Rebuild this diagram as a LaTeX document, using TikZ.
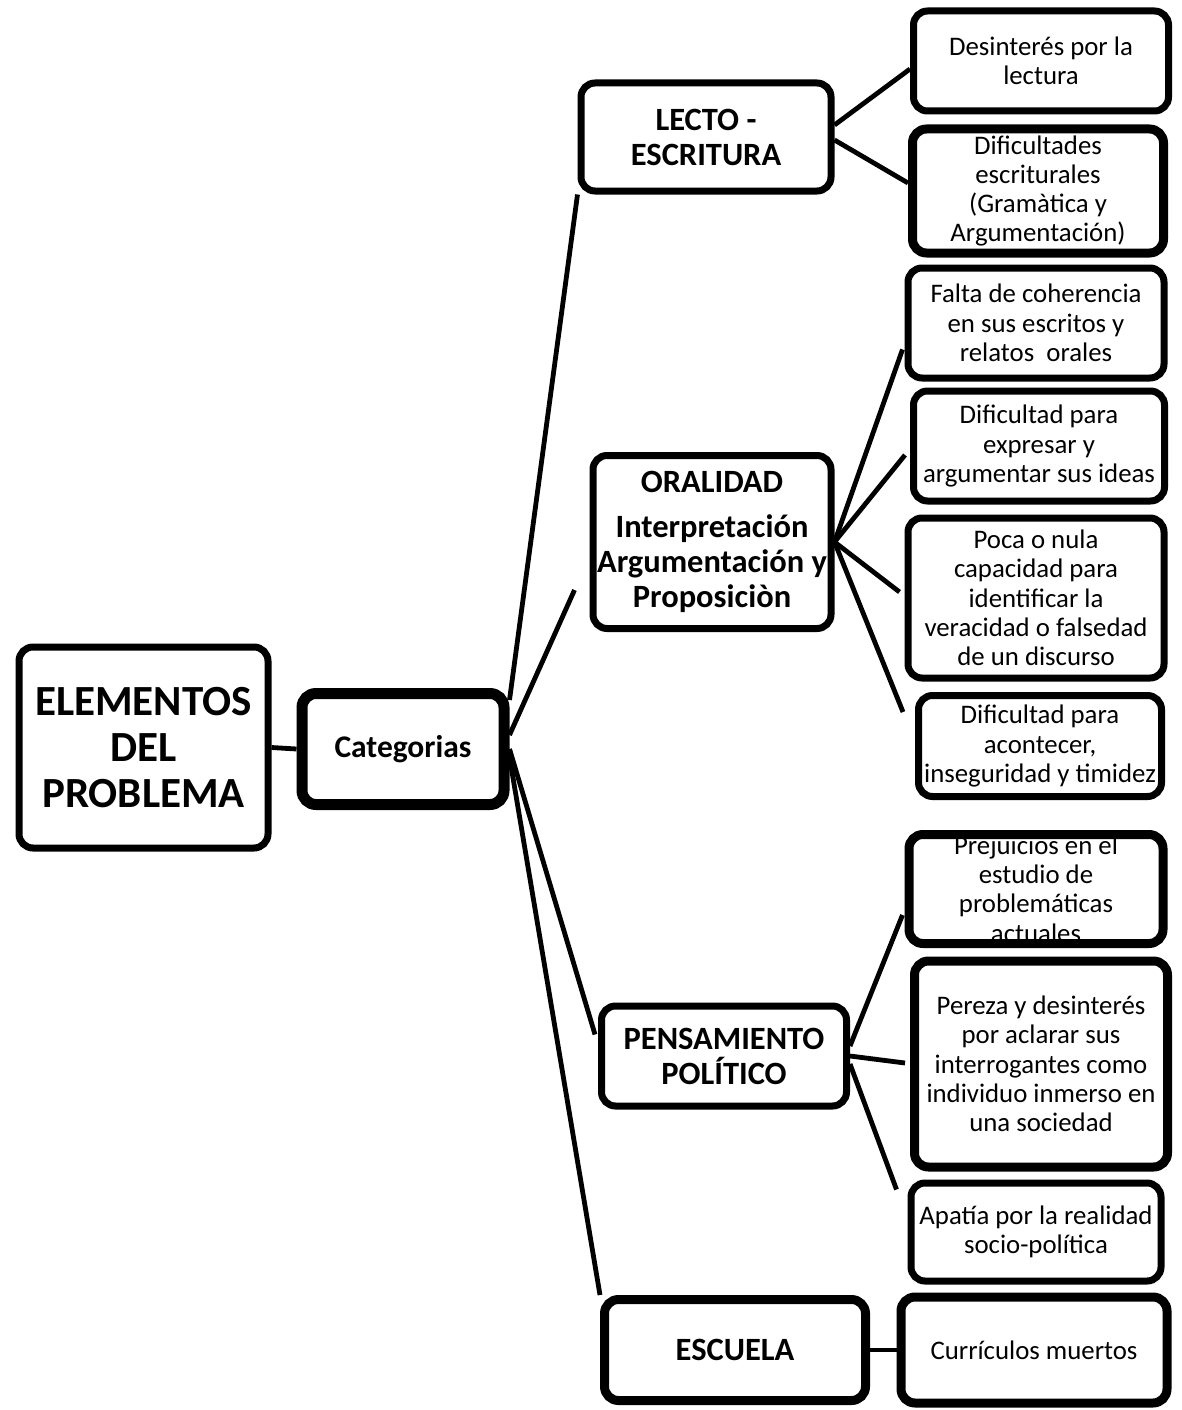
\documentclass[tikz,border=0pt]{standalone}
\usepackage{fontspec}
\setmainfont{Carlito}
\usetikzlibrary{calc}
\begin{document}
\begin{tikzpicture}[x=1pt,y=-1pt,
  box/.style={draw=black, line width=7pt, rounded corners=14pt, fill=white, align=center, inner sep=0pt},
  leaf/.style={box, font=\fontsize{26.8}{29.3}\selectfont},
  head/.style={box, font=\bfseries\fontsize{32.5}{35}\selectfont},
  conn/.style={line width=4.8pt}]
\useasboundingbox (0,0) rectangle (1182,1410);
% root and category
\node[box, font=\bfseries\fontsize{43}{46}\selectfont, minimum width=249pt, minimum height=201pt] (elem) at (143.5,747.5) {ELEMENTOS\\DEL\\PROBLEMA};
\node[head, font=\bfseries\fontsize{31.5}{35}\selectfont, line width=11pt, minimum width=202pt, minimum height=111pt] (cat) at (403,749) {Categorias};
% categories
\node[head, minimum width=250pt, minimum height=108pt] (lecto) at (706,137) {LECTO -\\ESCRITURA};
\node[head, minimum width=238pt, minimum height=173pt] (oral) at (712,542) {ORALIDAD\\[10pt]Interpretación\\Argumentación y\\Proposiciòn};
\node[head, minimum width=245pt, minimum height=100pt] (pens) at (724,1056) {PENSAMIENTO\\POLÍTICO};
\node[head, line width=9pt, minimum width=261pt, minimum height=101pt] (esc) at (735,1350) {ESCUELA};
% leaves
\node[leaf, minimum width=255pt, minimum height=100pt] (d1) at (1041,61) {Desinterés por la\\lectura};
\node[leaf, line width=9pt, minimum width=251pt, minimum height=124pt] (d2) at (1038,191) {Dificultades\\escriturales\\(Gramàtica y\\Argumentación)};
\node[leaf, minimum width=256pt, minimum height=110pt] (o1) at (1036,323) {Falta de coherencia\\en sus escritos y\\relatos\ \ orales};
\node[leaf, minimum width=251pt, minimum height=110pt] (o2) at (1039,446) {Dificultad para\\expresar y\\argumentar sus ideas};
\node[leaf, minimum width=256pt, minimum height=160pt] (o3) at (1036,598) {Poca o nula\\capacidad para\\identificar la\\veracidad o falsedad\\de un discurso};
\node[leaf, minimum width=243pt, minimum height=101pt] (o4) at (1040,746) {Dificultad para\\acontecer,\\inseguridad y timidez};
\node[leaf, line width=9pt, minimum width=254pt, minimum height=109pt] (p1) at (1036,889) {Prejuicios en el\\estudio de\\problemáticas\\actuales};
\node[leaf, line width=9pt, minimum width=253pt, minimum height=206pt] (p2) at (1041,1064) {Pereza y desinterés\\por aclarar sus\\interrogantes como\\individuo inmerso en\\una sociedad};
\node[leaf, minimum width=250pt, minimum height=98pt] (p3) at (1036,1232) {Apatía por la realidad\\socio-política};
\node[leaf, line width=9pt, minimum width=266pt, minimum height=106pt] (e1) at (1034,1350) {Currículos muertos};
% connectors
\draw[conn] (elem.east) -- (cat.west);
\draw[conn] ($(cat.north east)+(0,12)$) -- (lecto.south west);
\draw[conn] ($(cat.east)+(0,-14)$) -- ($(oral.south west)+(-15,-42)$);
\draw[conn] (cat.east) -- ($(pens.north west)+(-3,32)$);
\draw[conn] ($(cat.east)+(0,8)$) -- (esc.north west);
\draw[conn] ($(lecto.east)+(0,-12)$) -- ($(d1.west)+(0,8)$);
\draw[conn] ($(lecto.east)+(0,3)$) -- ($(d2.west)+(0,-8)$);
\draw[conn] (oral.east) -- ($(o1.south west)+(-2,-32)$);
\draw[conn] (oral.east) -- ($(o2.west)+(-5,9)$);
\draw[conn] (oral.east) -- ($(o3.west)+(-5,-6)$);
\draw[conn] (oral.east) -- ($(o4.north west)+(-12,20)$);
\draw[conn] ($(pens.east)+(0,-10)$) -- ($(p1.south west)+(-2,-33)$);
\draw[conn] (pens.east) -- ($(p2.west)+(-5,-1)$);
\draw[conn] ($(pens.east)+(0,8)$) -- ($(p3.north west)+(-11,10)$);
\draw[conn] (esc.east) -- (e1.west);
\end{tikzpicture}
\end{document}
